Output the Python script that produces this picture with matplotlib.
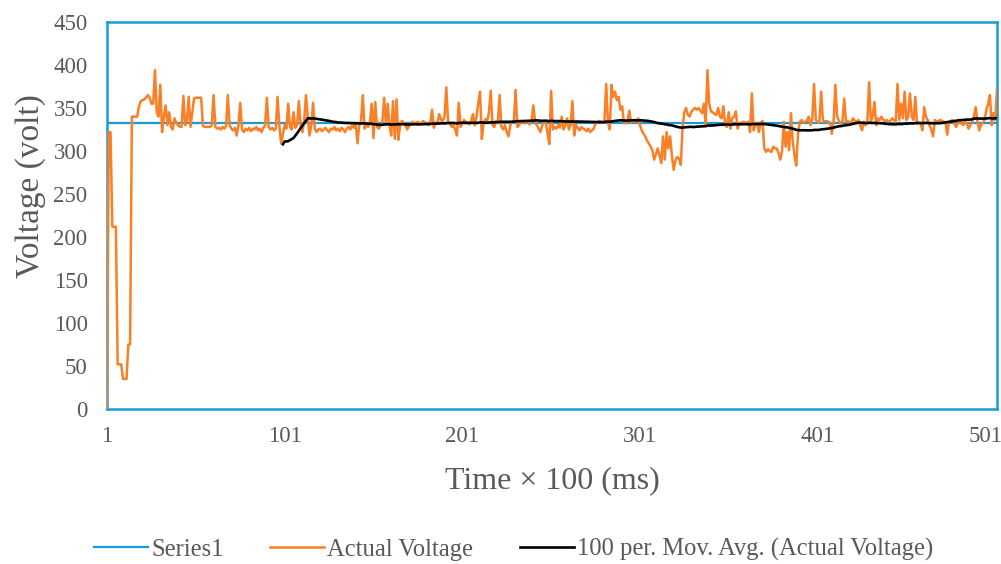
import matplotlib
matplotlib.use("Agg")
import matplotlib.pyplot as plt
import matplotlib.transforms as mtransforms
import numpy as np
import pandas as pd

plt.rcParams['font.family'] = ['Liberation Serif', 'DejaVu Serif']

# ---- data ----
series1_level = 333
actual_voltage = [
    0, 322, 322, 212, 212, 212, 52, 52, 52, 35,
    35, 35, 75, 75, 340, 340, 340, 340, 352, 358,
    359, 360, 362, 365, 362, 355, 355, 394, 345, 340,
    377, 322, 340, 353, 330, 345, 328, 325, 338, 333,
    330, 328, 328, 364, 330, 335, 363, 328, 345, 361,
    362, 362, 362, 362, 329, 328, 328, 328, 328, 330,
    365, 328, 326, 327, 325, 328, 326, 329, 365, 330,
    326, 324, 327, 318, 330, 356, 325, 322, 326, 324,
    327, 323, 326, 325, 328, 324, 326, 322, 327, 330,
    362, 328, 325, 327, 324, 326, 363, 330, 309, 320,
    330, 326, 355, 328, 325, 345, 327, 330, 358, 330,
    322, 335, 365, 340, 318, 330, 356, 326, 322, 325,
    326, 323, 325, 327, 324, 322, 326, 325, 328, 324,
    326, 323, 327, 325, 322, 326, 328, 325, 330, 327,
    332, 309, 330, 335, 365, 326, 330, 328, 333, 355,
    315, 357, 328, 326, 330, 333, 362, 332, 355, 330,
    318, 358, 314, 360, 313, 330, 335, 333, 330, 325,
    329, 333, 334, 332, 333, 334, 332, 333, 335, 333,
    332, 330, 334, 348, 327, 333, 332, 343, 336, 335,
    340, 374, 334, 332, 328, 330, 325, 318, 356, 328,
    332, 336, 334, 333, 331, 335, 343, 330, 340, 356,
    369, 314, 333, 337, 335, 345, 370, 330, 328, 335,
    333, 365, 328, 325, 330, 322, 317, 330, 334, 333,
    371, 328, 330, 334, 333, 332, 334, 333, 331, 335,
    353, 333, 330, 326, 322, 330, 335, 333, 320, 308,
    370, 325, 328, 326, 330, 327, 340, 325, 330, 338,
    325, 330, 358, 318, 330, 327, 324, 328, 326, 325,
    323, 326, 322, 324, 326, 332, 333, 335, 334, 333,
    334, 378, 333, 325, 377, 363, 369, 359, 363, 348,
    352, 333, 332, 335, 347, 333, 334, 335, 334, 338,
    330, 324, 320, 317, 312, 309, 305, 301, 290, 296,
    303, 295, 286, 317, 290, 322, 303, 317, 295, 278,
    289, 293, 291, 284, 328, 345, 350, 342, 340, 346,
    348, 350, 348, 350, 347, 344, 355, 330, 394, 355,
    346, 345, 343, 342, 350, 340, 338, 352, 330, 328,
    345, 326, 338, 340, 346, 326, 332, 333, 334, 333,
    333, 334, 322, 367, 324, 330, 333, 322, 333, 335,
    303, 299, 302, 300, 299, 305, 303, 303, 298, 290,
    300, 334, 305, 322, 301, 344, 311, 295, 283, 320,
    334, 336, 333, 334, 335, 340, 330, 336, 378, 336,
    334, 333, 369, 336, 334, 335, 334, 333, 320, 334,
    377, 340, 335, 332, 334, 361, 334, 335, 333, 334,
    338, 335, 334, 336, 330, 324, 334, 330, 334, 380,
    334, 340, 357, 330, 338, 336, 340, 336, 335, 336,
    334, 335, 338, 336, 334, 378, 336, 355, 338, 369,
    336, 340, 367, 340, 336, 363, 332, 333, 332, 324,
    351, 340, 336, 330, 325, 317, 336, 334, 335, 336,
    335, 334, 333, 319, 334, 335, 336, 332, 328, 333,
    334, 332, 330, 334, 332, 326, 330, 334, 340, 351,
    334, 324, 330, 333, 336, 348, 355, 365, 330, 344,
    336, 372,
]
ma_period = 100
x_ticks = [1, 101, 201, 301, 401, 501]
y_ticks = [0, 50, 100, 150, 200, 250, 300, 350, 400, 450]
legend_labels = ["Series1", "Actual Voltage", "100 per. Mov. Avg. (Actual Voltage)"]

# ---- styling ----
BLUE = '#1B9AD6'
ORANGE = '#F98026'
GRAY = '#595959'

time_idx = np.arange(1, len(actual_voltage) + 1)
ma = pd.Series(actual_voltage, dtype=float).rolling(ma_period).mean()

fig = plt.figure(figsize=(10.01, 5.64), dpi=100)
ax = fig.add_axes([107/1001, 1 - 409/564, (997 - 107)/1001, (409 - 22)/564])

l1, = ax.plot([time_idx[0], time_idx[-1]], [series1_level, series1_level],
              color=BLUE, lw=1.6, zorder=2)
l2, = ax.plot(time_idx, actual_voltage, color=ORANGE, lw=1.8, zorder=3)
l3, = ax.plot(time_idx, ma, color='black', lw=1.9, zorder=4)

ax.set_xlim(1, len(actual_voltage))
ax.set_ylim(0, 450)
ax.set_xticks(x_ticks)
ax.set_yticks(y_ticks)
ax.tick_params(axis='both', length=0, labelsize=16.5, labelcolor=GRAY)
ax.tick_params(axis='y', pad=14)
ax.tick_params(axis='x', pad=12)
for s in ax.spines.values():
    s.set_color(BLUE)
    s.set_linewidth(1.8)

# keep the last x label inside the figure (as the reference does)
last_lbl = ax.get_xticklabels()[-1]
last_lbl.set_transform(last_lbl.get_transform() +
                       mtransforms.ScaledTranslation(-10/100, 0, fig.dpi_scale_trans))

ax.set_ylabel("Voltage (volt)", fontsize=24, color=GRAY)
ax.yaxis.set_label_coords(-0.0685, 0.575)
ax.set_xlabel("Time × 100 (ms)", fontsize=23, color=GRAY, labelpad=14)

fig.legend([l1, l2, l3], legend_labels, loc='center', bbox_to_anchor=(0.513, 0.025),
           ncol=3, frameon=False, fontsize=17.7, labelcolor=GRAY,
           handlelength=2.2, handletextpad=0.12, columnspacing=1.9)

fig.savefig("out.png", dpi=100)
